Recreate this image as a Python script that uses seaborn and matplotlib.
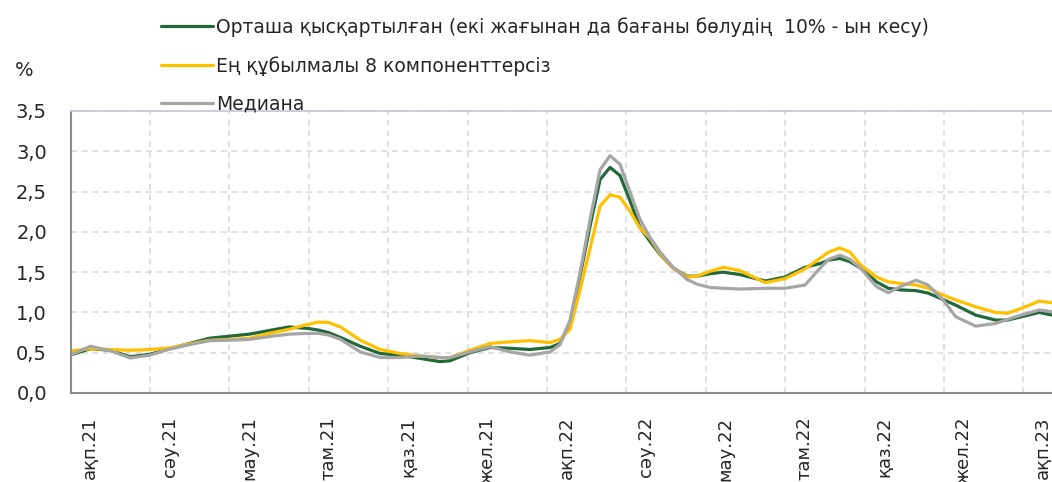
import numpy as np
import pandas as pd
import matplotlib
matplotlib.use("Agg")
import matplotlib.pyplot as plt
import seaborn as sns

# x = months counted from the left edge of the ақп.21 category
months = [0.0, 0.5, 1.0, 1.5, 2.0, 2.5, 3.0, 3.5, 4.0, 4.5, 5.0, 5.5, 6.0, 6.25, 6.5,
          6.8, 7.3, 7.8, 8.3, 8.8, 9.3, 9.56, 10.06, 10.57, 11.07, 11.57, 12.08, 12.33,
          12.58, 12.83, 13.09, 13.34, 13.59, 13.84, 14.09, 14.34, 14.6, 14.85, 15.18,
          15.53, 15.78, 16.11, 16.44, 16.86, 17.5, 18.0, 18.5, 18.9, 19.1, 19.38, 19.63,
          19.9, 20.3, 20.6, 20.9, 21.3, 21.6, 21.98, 22.3, 22.8, 23.3, 23.6, 23.95, 24.4,
          24.72]

trimmed_mean = [0.47, 0.55, 0.53, 0.45, 0.48, 0.55, 0.615, 0.68, 0.705, 0.73, 0.775, 0.82,
                0.80, 0.78, 0.75, 0.69, 0.58, 0.49, 0.47, 0.43, 0.39, 0.40, 0.50, 0.565,
                0.555, 0.54, 0.565, 0.615, 0.875, 1.44, 2.08, 2.65, 2.80, 2.70, 2.39, 2.06,
                1.88, 1.72, 1.55, 1.45, 1.45, 1.48, 1.50, 1.47, 1.39, 1.44, 1.56, 1.61, 1.65,
                1.67, 1.63, 1.55, 1.38, 1.30, 1.28, 1.27, 1.24, 1.16, 1.09, 0.967, 0.905,
                0.905, 0.946, 1.00, 0.967]

ex_volatile = [0.52, 0.55, 0.54, 0.53, 0.54, 0.56, 0.61, 0.655, 0.665, 0.68, 0.74, 0.79,
               0.855, 0.88, 0.875, 0.82, 0.655, 0.54, 0.49, 0.46, 0.44, 0.44, 0.53, 0.615,
               0.635, 0.65, 0.625, 0.667, 0.79, 1.27, 1.80, 2.32, 2.46, 2.43, 2.26, 2.05,
               1.92, 1.73, 1.55, 1.44, 1.45, 1.51, 1.56, 1.52, 1.37, 1.42, 1.54, 1.68, 1.75,
               1.80, 1.75, 1.59, 1.44, 1.38, 1.36, 1.34, 1.30, 1.215, 1.155, 1.07, 1.00,
               0.99, 1.05, 1.14, 1.12]

median = [0.47, 0.58, 0.525, 0.435, 0.47, 0.545, 0.60, 0.65, 0.655, 0.665, 0.70, 0.73,
          0.74, 0.74, 0.72, 0.665, 0.51, 0.44, 0.44, 0.46, 0.44, 0.44, 0.51, 0.575, 0.51,
          0.47, 0.51, 0.60, 0.90, 1.48, 2.16, 2.77, 2.945, 2.84, 2.50, 2.16, 1.93, 1.75,
          1.56, 1.41, 1.35, 1.31, 1.30, 1.29, 1.30, 1.30, 1.34, 1.56, 1.66, 1.71, 1.66,
          1.55, 1.32, 1.245, 1.32, 1.40, 1.34, 1.155, 0.946, 0.83, 0.863, 0.913, 0.967,
          1.03, 1.01]

series_names = ['Орташа қысқартылған (екі жағынан да бағаны бөлудің  10% - ын кесу)',
                'Ең құбылмалы 8 компоненттерсіз',
                'Медиана']
series_colors = ['#22683a', '#ffc000', '#a6a6a6']

tick_labels = ['ақп.21', 'сәу.21', 'мау.21', 'там.21', 'қаз.21', 'жел.21', 'ақп.22',
               'сәу.22', 'мау.22', 'там.22', 'қаз.22', 'жел.22', 'ақп.23']
y_ticks = [0.0, 0.5, 1.0, 1.5, 2.0, 2.5, 3.0, 3.5]

df = pd.concat([
    pd.DataFrame({'month': months, 'value': vals, 'series': name})
    for name, vals in zip(series_names, [trimmed_mean, ex_volatile, median])
])

sns.set_style('white')
plt.rcParams['font.family'] = ['DejaVu Sans']

fig = plt.figure(figsize=(10.52, 4.82), dpi=100)
ax = fig.add_axes([70.5 / 1052, 1 - 393 / 482, 1 - 70.5 / 1052, (393 - 111) / 482])

sns.lineplot(data=df, x='month', y='value', hue='series', hue_order=series_names,
             palette=series_colors, linewidth=2.3, ax=ax, legend=True, sort=False)

ax.set_xlim(0, (1052 - 70.5) / 39.7)
ax.set_ylim(0, 3.5)

# major ticks mark the category edges, labels sit in the middle of the category
major = np.arange(0, 25, 2)
ax.set_xticks(major)
ax.set_xticklabels([])
ax.set_xticks(major + 0.5, minor=True)
ax.set_xticklabels(tick_labels, minor=True, rotation=90, fontsize=13, va='top')
ax.tick_params(axis='x', which='major', length=7, width=1.2, color='#8c8c8c', direction='out')
ax.tick_params(axis='x', which='minor', length=0, pad=17)

ax.set_yticks(y_ticks)
ax.set_yticklabels([f'{v:.1f}'.replace('.', ',') for v in y_ticks], fontsize=14)
ax.tick_params(axis='y', length=5, width=1.2, color='#8c8c8c', direction='out', pad=12)

ax.grid(True, which='major', axis='both', color='#d9d9d9', linestyle=(0, (4, 3)), linewidth=1.1)
ax.set_axisbelow(True)
ax.set_xlabel('')
ax.set_ylabel('')

ax.spines['right'].set_visible(False)
ax.spines['top'].set_color('#cdc8dc')
ax.spines['top'].set_linewidth(1.3)
for side in ['left', 'bottom']:
    ax.spines[side].set_color('#8c8c8c')
    ax.spines[side].set_linewidth(1.5)

handles, labels = ax.get_legend_handles_labels()
ax.get_legend().remove()
for h in handles:
    h.set_linewidth(2.3)
fig.legend(handles, labels, loc='upper left', bbox_to_anchor=(161 / 1052, 1 - 17 / 482),
           frameon=False, fontsize=13.5, borderpad=0, borderaxespad=0,
           handlelength=2.75, handletextpad=0.18, labelspacing=1.02)

fig.text(15 / 1052, 1 - 70 / 482, '%', fontsize=14, va='center', ha='left')

fig.savefig('out.png', dpi=100)
